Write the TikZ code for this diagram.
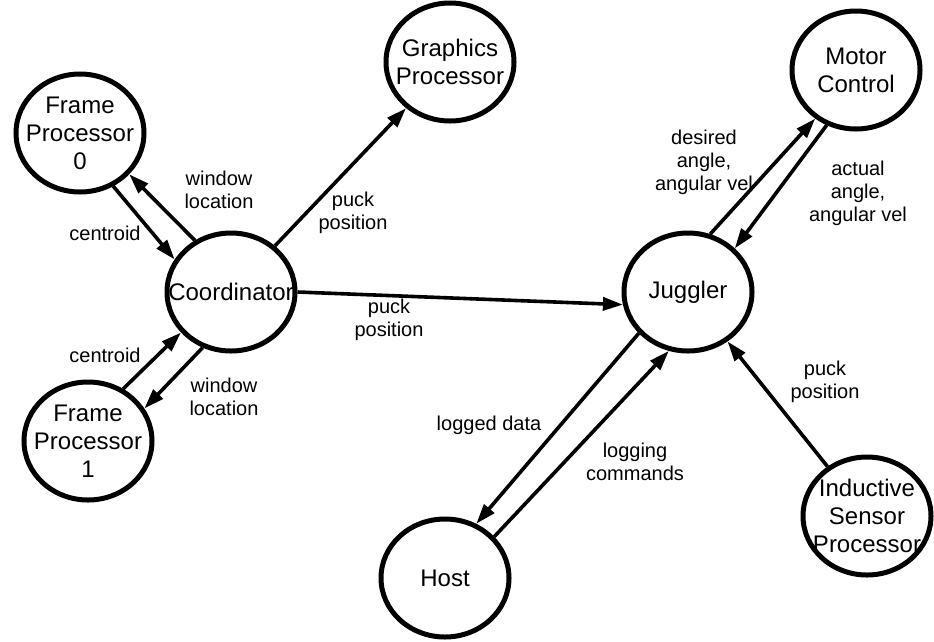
\documentclass[tikz,border=0pt]{standalone}
\usepackage{fontspec}
\setmainfont{Liberation Sans}
\usepackage{tikz}
\usetikzlibrary{shapes.geometric}
\usetikzlibrary{arrows.meta}
\usetikzlibrary{positioning}

\begin{document}
\begin{tikzpicture}[
                    x=1pt, y=-1pt,
                    proc/.style={ellipse, draw, line width=5pt, minimum width=128pt, minimum height=118pt, inner sep=0pt},
                    ptext/.style={align=center, font=\fontsize{24}{28}\selectfont},
                    lbl/.style={align=center, font=\fontsize{20}{23}\selectfont},
                    flow/.style={line width=3.6pt, -{Triangle[length=20pt,width=13pt]}}
                ]
                \useasboundingbox (0,0) rectangle (934,641);
                % processes
                \node[proc, label={[ptext]center:Frame\\Processor\\0}] (fp0) at (80,133) {};
                \node[proc, label={[ptext]center:Graphics\\Processor}] (graph) at (450,62) {};
                \node[proc, label={[ptext]center:Motor\\Control}] (motor) at (856,70) {};
                \node[proc, label={[ptext]center:Coordinator}] (coord) at (231,292) {};
                \node[proc, label={[ptext]center:Juggler}] (jug) at (688,292) {};
                \node[proc, label={[ptext]center:Frame\\Processor\\1}] (fp1) at (88,441) {};
                \node[proc, label={[ptext]center:Host}] (host) at (445,578) {};
                \node[proc, label={[ptext]center:Inductive\\Sensor\\Processor}] (isp) at (867,516) {};
                % data flows
                \draw[flow] (fp0.-58) -- (coord.150);
                \draw[flow] (coord.125) -- (fp0.-40);
                \draw[flow] (fp1.56) -- (coord.-141);
                \draw[flow] (coord.-117) -- (fp1.30);
                \draw[flow] (coord) -- (graph);
                \draw[flow] (coord.east) -- (jug.191);
                \draw[flow] (jug.69) -- (motor.-130);
                \draw[flow] (motor.-118) -- (jug.43);
                \draw[flow] (isp) -- (jug);
                \draw[flow] (jug.-140) -- (host.60);
                \draw[flow] (host.40) -- (jug.-108);
                % flow labels
                \node[lbl] (lcen0) at (105,233) {centroid};
                \node[lbl] (lwin0) at (219,190) {window\\location};
                \node[lbl] (lcen1) at (105,355) {centroid};
                \node[lbl] (lwin1) at (224,397) {window\\location};
                \node[lbl] (lpuckg) at (353,213) {puck\\position};
                \node[lbl] (lpuckj) at (389,320) {puck\\position};
                \node[lbl] (ldes) at (704,162) {desired\\angle,\\angular vel};
                \node[lbl] (lact) at (858,193) {actual\\angle,\\angular vel};
                \node[lbl] (lpucki) at (825,382) {puck\\position};
                \node[lbl] (llogd) at (489,425) {logged data};
                \node[lbl] (llogc) at (635,462) {logging\\commands};
            \end{tikzpicture}
\end{document}
